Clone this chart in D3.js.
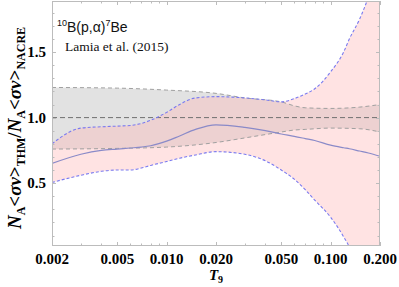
<!DOCTYPE html>
<html>
<head>
<meta charset="utf-8">
<script src="https://cdn.jsdelivr.net/npm/d3@7"></script>
<style>
  body { margin: 0; background: #fff; }
  svg { display: block; }
</style>
</head>
<body>
<svg id="chart"></svg>
<script>
// ratio N_A<sv>_THM / N_A<sv>_NACRE for 10B(p,a)7Be
const nacreT = [0.002, 0.005, 0.01, 0.02, 0.03, 0.05, 0.06, 0.07, 0.1, 0.15, 0.2];
const nacreUpper = [1.23, 1.225, 1.21, 1.185, 1.15, 1.12, 1.09, 1.075, 1.07, 1.08, 1.1];
const nacreLower = [0.76, 0.765, 0.775, 0.81, 0.845, 0.89, 0.905, 0.91, 0.92, 0.915, 0.89];

const thmT = [0.002, 0.003, 0.004, 0.005, 0.006, 0.007, 0.008, 0.01, 0.012, 0.015, 0.02, 0.03, 0.04, 0.05, 0.06, 0.07, 0.08, 0.1, 0.12, 0.13, 0.15, 0.17, 0.2];
const thmUpper = [0.80, 0.92, 0.93, 0.935, 0.94, 0.955, 0.98, 1.04, 1.10, 1.15, 1.16, 1.15, 1.135, 1.12, 1.145, 1.18, 1.22, 1.35, 1.5, 1.6, 1.75, 1.92, 2.2];
const thmCentral = [0.65, 0.72, 0.75, 0.76, 0.768, 0.775, 0.785, 0.82, 0.86, 0.91, 0.945, 0.925, 0.9, 0.875, 0.857, 0.84, 0.825, 0.79, 0.77, 0.762, 0.745, 0.73, 0.705];
const thmLower = [0.505, 0.56, 0.59, 0.60, 0.60, 0.615, 0.635, 0.665, 0.69, 0.715, 0.74, 0.72, 0.67, 0.60, 0.53, 0.45, 0.37, 0.24, 0.09, 0.01, -0.3, -0.55, -0.8];

const xMajor = [0.002, 0.005, 0.01, 0.02, 0.05, 0.1, 0.2];
const xMinor = [0.003, 0.004, 0.006, 0.007, 0.008, 0.009, 0.03, 0.04, 0.06, 0.07, 0.08, 0.09];
const yMajor = [0.5, 1.0, 1.5];
const yMinor = [0.1, 0.2, 0.3, 0.4, 0.6, 0.7, 0.8, 0.9, 1.1, 1.2, 1.3, 1.4, 1.6, 1.7, 1.8];

const width = 399, height = 287;
const margin = { top: 1, right: 19, bottom: 41, left: 52 };

const svg = d3.select("#chart")
    .attr("width", width)
    .attr("height", height)
    .attr("viewBox", `0 0 ${width} ${height}`);

const x = d3.scaleLog()
    .domain([0.002, 0.2])
    .range([margin.left, width - margin.right]);
const y = d3.scaleLinear()
    .domain([0.02, 1.89])
    .range([height - margin.bottom, margin.top]);

svg.append("clipPath").attr("id", "clip")
  .append("rect")
    .attr("x", margin.left).attr("y", margin.top)
    .attr("width", width - margin.left - margin.right)
    .attr("height", height - margin.top - margin.bottom);

const plot = svg.append("g").attr("clip-path", "url(#clip)");

const nacre = nacreT.map((t, i) => ({ t, lo: nacreLower[i], hi: nacreUpper[i] }));
const thm = thmT.map((t, i) => ({ t, lo: thmLower[i], mid: thmCentral[i], hi: thmUpper[i] }));

const curve = d3.curveMonotoneX;

// NACRE band (gray)
plot.append("path")
    .datum(nacre)
    .attr("fill", "#cfcfcf")
    .attr("fill-opacity", 0.6)
    .attr("d", d3.area().curve(curve).x(d => x(d.t)).y0(d => y(d.lo)).y1(d => y(d.hi)));

// THM band (pink)
plot.append("path")
    .datum(thm)
    .attr("fill", "#ffb8b8")
    .attr("fill-opacity", 0.4)
    .attr("d", d3.area().curve(curve).x(d => x(d.t)).y0(d => y(d.lo)).y1(d => y(d.hi)));

// unity line
plot.append("line")
    .attr("x1", margin.left).attr("x2", width - margin.right)
    .attr("y1", y(1)).attr("y2", y(1))
    .attr("stroke", "#707070")
    .attr("stroke-width", 1)
    .attr("stroke-dasharray", "5,3");

const line = key => d3.line().curve(curve).x(d => x(d.t)).y(d => y(d[key]));

["lo", "hi"].forEach(k => {
  plot.append("path")
      .datum(nacre)
      .attr("fill", "none")
      .attr("stroke", "#a0a0a0")
      .attr("stroke-width", 1)
      .attr("stroke-dasharray", "4,3")
      .attr("d", line(k));
});

["lo", "hi"].forEach(k => {
  plot.append("path")
      .datum(thm)
      .attr("fill", "none")
      .attr("stroke", "#7a7af0")
      .attr("stroke-width", 1.1)
      .attr("stroke-dasharray", "3,2")
      .attr("d", line(k));
});

plot.append("path")
    .datum(thm)
    .attr("fill", "none")
    .attr("stroke", "#8a8ac8")
    .attr("stroke-width", 1.2)
    .attr("d", line("mid"));

// frame and ticks
const frameColor = "#bcbcbc";
svg.append("rect")
    .attr("x", margin.left + 0.5).attr("y", margin.top + 0.5)
    .attr("width", width - margin.left - margin.right - 1)
    .attr("height", height - margin.top - margin.bottom - 1)
    .attr("fill", "none")
    .attr("stroke", frameColor);

const yb = height - margin.bottom, yt = margin.top;
const xl = margin.left, xr = width - margin.right;
const ticks = svg.append("g").attr("stroke", frameColor).attr("stroke-width", 1);

xMajor.concat(xMinor).forEach(t => {
  const len = xMajor.includes(t) ? 4 : 2.5;
  const px = Math.round(x(t)) + 0.5;
  ticks.append("line").attr("x1", px).attr("x2", px).attr("y1", yb).attr("y2", yb - len);
  ticks.append("line").attr("x1", px).attr("x2", px).attr("y1", yt).attr("y2", yt + len);
});
yMajor.concat(yMinor).forEach(v => {
  const len = yMajor.includes(v) ? 4 : 2.5;
  const py = Math.round(y(v)) + 0.5;
  ticks.append("line").attr("x1", xl).attr("x2", xl + len).attr("y1", py).attr("y2", py);
  ticks.append("line").attr("x1", xr).attr("x2", xr - len).attr("y1", py).attr("y2", py);
});

// tick labels
const serif = "'Liberation Serif', 'Times New Roman', serif";
svg.append("g")
    .attr("font-family", serif)
    .attr("font-weight", "bold")
    .attr("font-size", 15)
    .attr("text-anchor", "middle")
  .selectAll("text")
  .data(xMajor)
  .join("text")
    .attr("x", d => x(d))
    .attr("y", 264)
    .text(d => d3.format(".3f")(d));

svg.append("g")
    .attr("font-family", serif)
    .attr("font-weight", "bold")
    .attr("font-size", 15)
    .attr("text-anchor", "end")
  .selectAll("text")
  .data(yMajor)
  .join("text")
    .attr("x", 46)
    .attr("y", d => y(d) + 5)
    .text(d => d3.format(".1f")(d));

// axis titles
const xt = svg.append("text")
    .attr("x", x(0.02))
    .attr("y", 280)
    .attr("text-anchor", "middle")
    .attr("font-family", serif)
    .attr("font-weight", "bold")
    .attr("font-size", 15);
xt.append("tspan").attr("font-style", "italic").text("T");
xt.append("tspan").attr("font-size", 10).attr("dy", 3).text("9");

const ylab = svg.append("text")
    .attr("transform", `translate(21,128) rotate(-90)`)
    .attr("text-anchor", "middle")
    .attr("font-family", serif)
    .attr("font-weight", "bold")
    .attr("font-size", 19);
const part = (txt, opts = {}) => {
  const s = ylab.append("tspan").text(txt);
  if (opts.italic) s.attr("font-style", "italic");
  if (opts.size) s.attr("font-size", opts.size);
  if (opts.dy) s.attr("dy", opts.dy);
  return s;
};
part("N", { italic: true });
part("A", { size: 12, dy: 4 });
part("<", { dy: -4 });
part("σv", { italic: true });
part(">");
part("THM", { size: 12, dy: 4 });
part("/", { dy: -4 });
part("N", { italic: true });
part("A", { size: 12, dy: 4 });
part("<", { dy: -4 });
part("σv", { italic: true });
part(">");
part("NACRE", { size: 12, dy: 4 });

// annotations
const reac = svg.append("text")
    .attr("x", 57)
    .attr("y", 32)
    .attr("font-family", "'Liberation Sans', Arial, sans-serif")
    .attr("font-size", 14)
    .attr("fill", "#111");
reac.append("tspan").attr("font-size", 9).attr("dy", -6).text("10");
reac.append("tspan").attr("dy", 6).text("B(p,α)");
reac.append("tspan").attr("font-size", 9).attr("dy", -6).text("7");
reac.append("tspan").attr("dy", 6).text("Be");

svg.append("text")
    .attr("x", 65)
    .attr("y", 51)
    .attr("font-family", serif)
    .attr("font-size", 13.5)
    .attr("fill", "#111")
    .text("Lamia et al. (2015)");
</script>
</body>
</html>
